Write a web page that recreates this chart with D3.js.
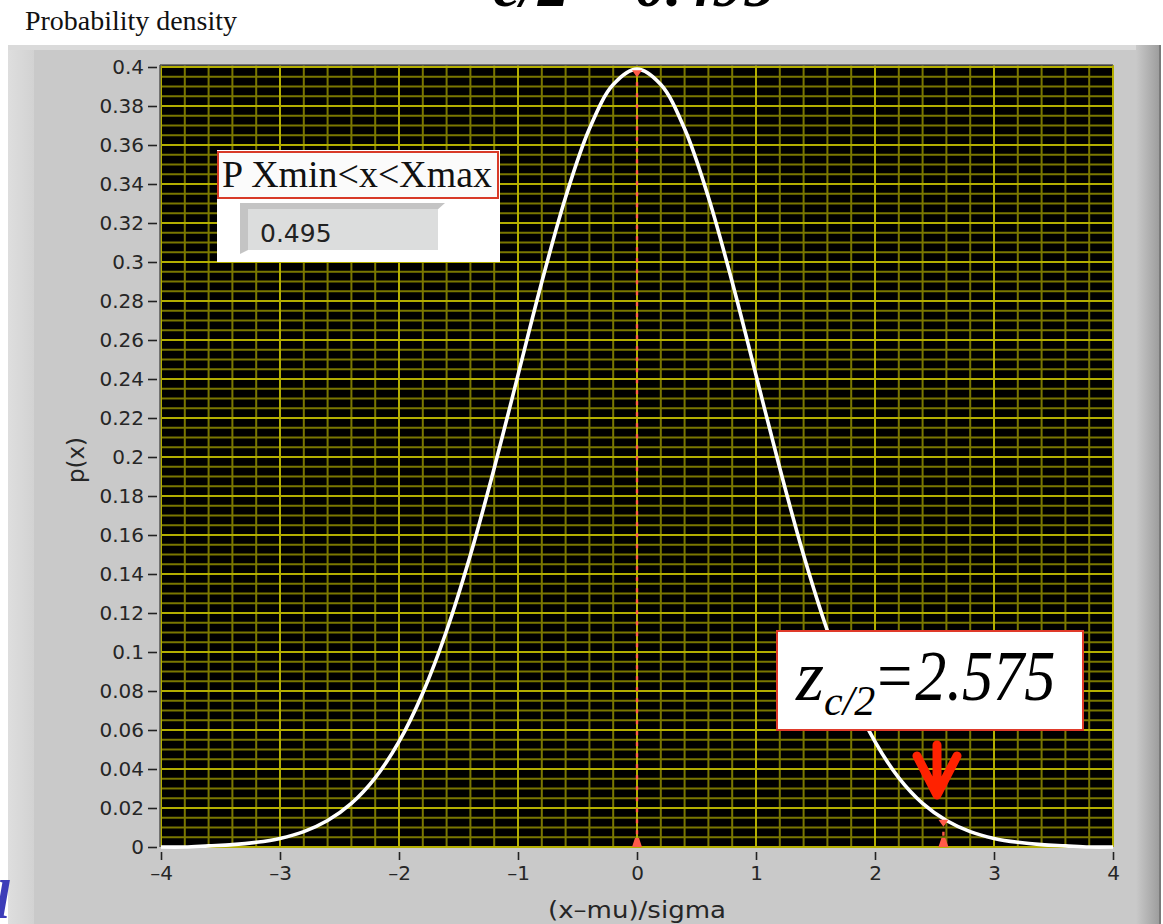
<!DOCTYPE html>
<html>
<head>
<meta charset="utf-8">
<script src="https://cdn.jsdelivr.net/npm/d3@7/dist/d3.min.js"></script>
<style>
  html, body { margin: 0; padding: 0; background: #ffffff; }
  svg { display: block; }
</style>
</head>
<body>
<div id="chart"></div>
<script>
// ---- data ----
const xTickValues = [-4, -3, -2, -1, 0, 1, 2, 3, 4];
const xTickLabels = ["\u20134", "\u20133", "\u20132", "\u20131", "0", "1", "2", "3", "4"];
const yTickValues = [0, 0.02, 0.04, 0.06, 0.08, 0.1, 0.12, 0.14, 0.16, 0.18, 0.2,
                     0.22, 0.24, 0.26, 0.28, 0.3, 0.32, 0.34, 0.36, 0.38, 0.4];
const yTickLabels = ["0", "0.02", "0.04", "0.06", "0.08", "0.1", "0.12", "0.14", "0.16", "0.18", "0.2",
                     "0.22", "0.24", "0.26", "0.28", "0.3", "0.32", "0.34", "0.36", "0.38", "0.4"];
const curveX = [-4, -3.8, -3.6, -3.4, -3.2, -3, -2.8, -2.6, -2.4, -2.2, -2, -1.8, -1.6, -1.4, -1.2, -1,
                -0.8, -0.6, -0.4, -0.2, 0, 0.2, 0.4, 0.6, 0.8, 1, 1.2, 1.4, 1.6, 1.8, 2, 2.2, 2.4,
                2.6, 2.8, 3, 3.2, 3.4, 3.6, 3.8, 4];
const curveY = [0, 0, 0.0006, 0.0012, 0.0024, 0.0044, 0.0079, 0.0136, 0.0224, 0.0355, 0.054, 0.079,
                0.1109, 0.1497, 0.1942, 0.242, 0.2897, 0.3332, 0.3683, 0.391, 0.3989, 0.391, 0.3683,
                0.3332, 0.2897, 0.242, 0.1942, 0.1497, 0.1109, 0.079, 0.054, 0.0355, 0.0224, 0.0136,
                0.0079, 0.0044, 0.0024, 0.0012, 0.0006, 0, 0];
const cursorX = [0, 2.575];
const cursorY = [0.3989, 0.0145];
const probLabel = "P Xmin<x<Xmax";
const probValue = "0.495";
const zValue = "2.575";
const headTitle = "c/2 = 0.495";

// ---- layout ----
const W = 1163, H = 924;
const svg = d3.select("#chart").append("svg").attr("width", W).attr("height", H);
const x = d3.scaleLinear().domain([-4, 4]).range([161, 1113]);
const y = d3.scaleLinear().domain([0, 0.4]).range([847, 67]);

const defs = svg.append("defs");
const rg = defs.append("linearGradient").attr("id", "rightEdge").attr("x1", 0).attr("x2", 1);
rg.append("stop").attr("offset", 0).attr("stop-color", "#c9c9c9");
rg.append("stop").attr("offset", 1).attr("stop-color", "#9c9c9c");
const lg = defs.append("linearGradient").attr("id", "leftEdge").attr("x1", 0).attr("x2", 1);
lg.append("stop").attr("offset", 0).attr("stop-color", "#dedede");
lg.append("stop").attr("offset", 1).attr("stop-color", "#d2d2d2");

// cut-off heading at top
svg.append("text").attr("x", 493).attr("y", 6)
  .style("font-family", "'Liberation Serif', 'Times New Roman', serif")
  .style("font-size", "62px").style("font-weight", "bold").style("font-style", "italic")
  .attr("fill", "#000").text(headTitle);

// "Probability density"
svg.append("text").attr("x", 25).attr("y", 30).attr("textLength", 212).attr("lengthAdjust", "spacingAndGlyphs")
  .style("font-family", "'Liberation Serif', 'Times New Roman', serif")
  .style("font-size", "27px").attr("fill", "#111").text("Probability density");

// grey panel
svg.append("rect").attr("x", 8).attr("y", 45).attr("width", 1152).attr("height", H - 45).attr("fill", "#c9c9c9");
svg.append("rect").attr("x", 8).attr("y", 45).attr("width", 26).attr("height", H - 45).attr("fill", "url(#leftEdge)");
svg.append("rect").attr("x", 8).attr("y", 45).attr("width", 1152).attr("height", 5).attr("fill", "#dadada");
svg.append("rect").attr("x", 1136).attr("y", 45).attr("width", 24).attr("height", H - 45).attr("fill", "url(#rightEdge)");
svg.append("rect").attr("x", 1159).attr("y", 45).attr("width", 2).attr("height", H - 45).attr("fill", "#7a7a7a");

// plot area
svg.append("rect").attr("x", x(-4)).attr("y", 65).attr("width", x(4) - x(-4)).attr("height", y(0) - 65)
  .attr("fill", "#000");

const grid = svg.append("g");
const xMinor = d3.range(-40, 41, 2).map(d => d / 10).filter(d => Math.abs(d - Math.round(d)) > 1e-6);
const yMinor = d3.range(0, 81).map(d => d * 0.005).filter((d, i) => i % 4 !== 0);
grid.selectAll(".xm").data(xMinor).join("line")
  .attr("x1", d => x(d)).attr("x2", d => x(d)).attr("y1", 65).attr("y2", y(0))
  .attr("stroke", "#7a7700").attr("stroke-width", 2);
grid.selectAll(".ym").data(yMinor).join("line")
  .attr("x1", x(-4)).attr("x2", x(4)).attr("y1", d => y(d)).attr("y2", d => y(d))
  .attr("stroke", "#7a7700").attr("stroke-width", 2);
grid.selectAll(".xM").data(xTickValues).join("line")
  .attr("x1", d => x(d)).attr("x2", d => x(d)).attr("y1", 65).attr("y2", y(0))
  .attr("stroke", "#b3ae00").attr("stroke-width", 2);
grid.selectAll(".yM").data(yTickValues).join("line")
  .attr("x1", x(-4)).attr("x2", x(4)).attr("y1", d => y(d)).attr("y2", d => y(d))
  .attr("stroke", "#b3ae00").attr("stroke-width", 2);

// plot borders
svg.append("line").attr("x1", x(-4) - 1).attr("x2", x(4)).attr("y1", 65).attr("y2", 65).attr("stroke", "#555").attr("stroke-width", 1.5);
svg.append("line").attr("x1", x(-4) - 1).attr("x2", x(-4) - 1).attr("y1", 65).attr("y2", y(0)).attr("stroke", "#555").attr("stroke-width", 1.5);

// axes
const sans = "'DejaVu Sans', Verdana, sans-serif";
const yAxis = d3.axisLeft(y).tickValues(yTickValues).tickSize(9).tickPadding(4)
  .tickFormat((d, i) => yTickLabels[i]);
const gy = svg.append("g").attr("transform", `translate(${x(-4) - 4},0)`).call(yAxis);
gy.select(".domain").remove();
gy.selectAll(".tick line").attr("stroke", "#222").attr("stroke-width", 1.6);
gy.selectAll(".tick text").style("font-family", sans).style("font-size", "20px").attr("fill", "#262626");

const xAxis = d3.axisBottom(x).tickValues(xTickValues).tickSize(8).tickPadding(6)
  .tickFormat((d, i) => xTickLabels[i]);
const gx = svg.append("g").attr("transform", `translate(0,${y(0) + 5})`).call(xAxis);
gx.select(".domain").remove();
gx.selectAll(".tick line").attr("stroke", "#222").attr("stroke-width", 1.6);
gx.selectAll(".tick text").style("font-family", sans).style("font-size", "20px").attr("fill", "#262626");

svg.append("text").attr("x", x(0)).attr("y", 918).attr("text-anchor", "middle")
  .style("font-family", sans).style("font-size", "23px").attr("textLength", 178).attr("lengthAdjust", "spacingAndGlyphs")
  .attr("fill", "#262626").text("(x\u2013mu)/sigma");
svg.append("text").attr("transform", "translate(84,460) rotate(-90)").attr("text-anchor", "middle")
  .style("font-family", sans).style("font-size", "23px").attr("fill", "#262626").text("p(x)");

// curve
const pts = curveX.map((d, i) => [d, curveY[i]]);
svg.append("path").datum(pts)
  .attr("d", d3.line().x(d => x(d[0])).y(d => y(d[1])).curve(d3.curveCatmullRom.alpha(0.5)))
  .attr("fill", "none").attr("stroke", "#fff").attr("stroke-width", 3.6);

// cursors
cursorX.forEach((cx, i) => {
  const px = x(cx);
  svg.append("line").attr("x1", px).attr("x2", px).attr("y1", y(cursorY[i]) + 2).attr("y2", y(0))
    .attr("stroke", "#ff5a48").attr("stroke-width", 2.4).attr("stroke-dasharray", "4,7");
  svg.append("path").attr("d", `M${px - 5},${y(cursorY[i]) + 1} L${px + 5},${y(cursorY[i]) + 1} L${px},${y(cursorY[i]) + 8} Z`)
    .attr("fill", "#ff5a48");
  svg.append("path").attr("d", `M${px - 5},${y(0)} L${px + 5},${y(0)} L${px + 2},${y(0) - 9} L${px - 2},${y(0) - 9} Z`)
    .attr("fill", "#ff5a48");
});

// probability indicator
svg.append("rect").attr("x", 217).attr("y", 150).attr("width", 283).attr("height", 112).attr("fill", "#fff");
svg.append("rect").attr("x", 218).attr("y", 152).attr("width", 280).attr("height", 46)
  .attr("fill", "#fbfbfb").attr("stroke", "#d83a28").attr("stroke-width", 2);
svg.append("text").attr("x", 222).attr("y", 187).attr("textLength", 270).attr("lengthAdjust", "spacingAndGlyphs")
  .style("font-family", "'Liberation Serif', 'Times New Roman', serif").style("font-size", "37px")
  .attr("fill", "#111").text(probLabel);
svg.append("path").attr("d", "M240,203 L445,203 L436,211 L248,211 L248,250 L240,254 Z").attr("fill", "#c4c4c4");
svg.append("rect").attr("x", 248).attr("y", 209).attr("width", 190).attr("height", 41).attr("fill", "#dcdddd");
svg.append("text").attr("x", 260).attr("y", 242)
  .style("font-family", sans).style("font-size", "25px").attr("fill", "#222").text(probValue);

// z annotation box
svg.append("rect").attr("x", 777).attr("y", 631).attr("width", 306).attr("height", 99)
  .attr("fill", "#fff").attr("stroke", "#e03a2a").attr("stroke-width", 2);
const zt = svg.append("text").attr("x", 796).attr("y", 700)
  .style("font-family", "'Liberation Serif', 'Times New Roman', serif").style("font-style", "italic")
  .attr("fill", "#000");
zt.append("tspan").style("font-size", "72px").text("z");
zt.append("tspan").attr("dy", 15).style("font-size", "42px").text("c/2");
zt.append("tspan").attr("dy", -15).attr("dx", -2).style("font-size", "72px").attr("textLength", 182)
  .attr("lengthAdjust", "spacingAndGlyphs").text("=" + zValue);

// red arrow
svg.append("path").attr("d", "M937,745 L937,794 M917,756 L937,795 L957,756")
  .attr("fill", "none").attr("stroke", "#ff2200").attr("stroke-width", 9)
  .attr("stroke-linecap", "round").attr("stroke-linejoin", "round");

// clipped blue glyph at bottom-left
svg.append("text").attr("x", 10).attr("y", 918).attr("text-anchor", "end")
  .style("font-family", "'Liberation Serif', serif").style("font-size", "54px")
  .style("font-weight", "bold").style("font-style", "italic").attr("fill", "#3c3cb8").text("l");
</script>
</body>
</html>
